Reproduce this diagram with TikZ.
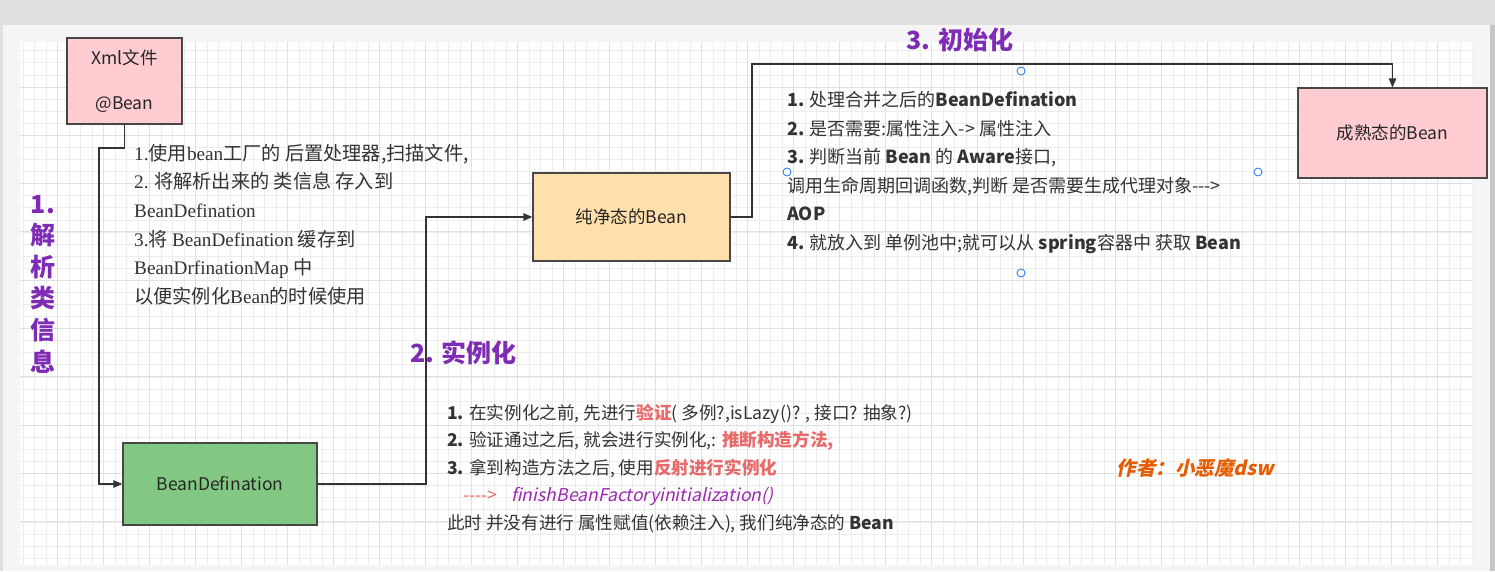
\documentclass[tikz,border=0pt]{standalone}
\usepackage{fontspec}
\setmainfont{Noto Sans CJK SC}
\newfontfamily\serifl{Liberation Serif}
\newfontfamily\slantfont{Noto Sans CJK SC}[FakeSlant=0.22]
\usetikzlibrary{arrows.meta}
\definecolor{pinkbox}{HTML}{FFCCD2}
\definecolor{greenbox}{HTML}{82C882}
\definecolor{peachbox}{HTML}{FFDFAA}
\definecolor{headpurple}{HTML}{7E2BB5}
\definecolor{callpurple}{HTML}{9C27B0}
\definecolor{notered}{HTML}{E86A6A}
\definecolor{authororange}{HTML}{E65C00}
\definecolor{inktext}{HTML}{333333}
\definecolor{handleblue}{HTML}{2F80ED}

\tikzset{
  box/.style={draw=black!72,line width=1.3pt,text=black!85,font=\fontsize{17.5}{22}\selectfont},
  link/.style={draw=black!80,line width=1.3pt,-{Triangle[length=9pt,width=7.5pt]}},
  heading/.style={text=headpurple,font=\fontsize{25}{31.6}\selectfont\bfseries},
  notes/.style={anchor=base west,align=left,inner sep=0pt,text=inktext},
  handle/.style={draw=handleblue,fill=white,line width=0.9pt},
  gridminor/.style={draw=black!7,line width=0.6pt},
  gridmajor/.style={draw=black!12,line width=0.8pt}
}

\begin{document}
\begin{tikzpicture}[x=1pt,y=-1pt]
\useasboundingbox (0,0) rectangle (1495,571);
% page and sheet
\fill[black!12] (0,0) rectangle (1495,571);
\fill[black!4] (3,25) rectangle (1490,571);
\fill[black!22] (1490,25) rectangle (1495,571);
\fill[white] (20,42) rectangle (1472,565);
\begin{scope}
\clip (20,42) rectangle (1472,565);
\foreach \i in {1,...,127} {\draw[gridminor] (11.4+\i*11.5,42) -- (11.4+\i*11.5,565);}
\foreach \j in {1,...,43} {\draw[gridminor] (20,38.6+\j*12.08) -- (1472,38.6+\j*12.08);}
\foreach \i in {1,...,31} {\draw[gridmajor] (11.4+\i*46,42) -- (11.4+\i*46,565);}
\foreach \j in {1,...,10} {\draw[gridmajor] (20,38.6+\j*48.32) -- (1472,38.6+\j*48.32);}
\end{scope}

% stages
\node[box,fill=pinkbox,minimum width=115pt,minimum height=86pt,align=center] (xml) at (124.5,81) {Xml文件\\[23pt]@Bean};
\node[box,fill=greenbox,minimum width=194pt,minimum height=82pt] (bdef) at (220,484) {BeanDefination};
\node[box,fill=peachbox,minimum width=197pt,minimum height=88pt] (pure) at (631.5,217) {纯净态的Bean};
\node[box,fill=pinkbox,minimum width=189pt,minimum height=90pt] (ripe) at (1392.5,133) {成熟态的Bean};

\coordinate (c1) at (99,148);
\coordinate (c2) at (426,217);
\coordinate (c3) at (752,64);
\draw[link] (xml.south) |- (c1) |- (bdef.west);
\draw[link] (bdef.east) -| (c2) -- (pure.west);
\draw[link] (pure.east) -| (c3) -| (ripe.north);

% headings
\node[heading,align=center] (parse) at (43,284) {1.\\解\\析\\类\\信\\息};
\node[heading] (inst) at (463.5,353) {2. 实例化};
\node[heading] (init) at (960,40) {3. 初始化};

% notes (anchored at the last line)
\node[notes,font=\fontsize{19.2}{28.7}\selectfont] (parsenote) at (134,303.5) {%
{\serifl 1.}使用{\serifl bean}工厂的 后置处理器,扫描文件,\\
{\serifl 2.} 将解析出来的 类信息 存入到\\
{\serifl BeanDefination}\\
{\serifl 3.}将 {\serifl BeanDefination} 缓存到\\
{\serifl BeanDrfinationMap} 中\\
以便实例化{\serifl Bean}的时候使用};

\node[notes,font=\fontsize{17.6}{27.5}\selectfont] (instnote) at (447,529) {%
\textbf{1.} 在实例化之前, 先进行{\color{notered}\bfseries 验证}( 多例?,isLazy()? , 接口? 抽象?)\\
\textbf{2.} 验证通过之后, 就会进行实例化,: {\color{notered}\bfseries 推断构造方法,}\\
\textbf{3.} 拿到构造方法之后, 使用{\color{notered}\bfseries 反射进行实例化}\\
\hspace{16pt}{\color{notered}-{}-{}-{}->}\hspace{14pt}{\color{callpurple}\slantfont finishBeanFactoryinitialization()}\\
此时 并没有进行 属性赋值(依赖注入), 我们纯净态的 \textbf{Bean}};

\node[notes,font=\fontsize{18}{28.6}\selectfont] (initnote) at (787,249.5) {%
\textbf{1.} 处理合并之后的\textbf{BeanDefination}\\
\textbf{2.} 是否需要:属性注入-> 属性注入\\
\textbf{3.} 判断当前 \textbf{Bean} 的 \textbf{Aware}接口,\\
调用生命周期回调函数,判断 是否需要生成代理对象-{}-{}->\\
\textbf{AOP}\\
\textbf{4.} 就放入到 单例池中;就可以从 \textbf{spring}容器中 获取 \textbf{Bean}};

% selection handles
\foreach \hx/\hy in {1021/71,1021/273,787/172,1258/172} {\draw[handle] (\hx,\hy) circle (4pt);}

\node[anchor=west,text=authororange,font=\fontsize{19.5}{22}\selectfont\slantfont\bfseries] (author) at (1113,468) {作者：小恶魔dsw};
\end{tikzpicture}
\end{document}
